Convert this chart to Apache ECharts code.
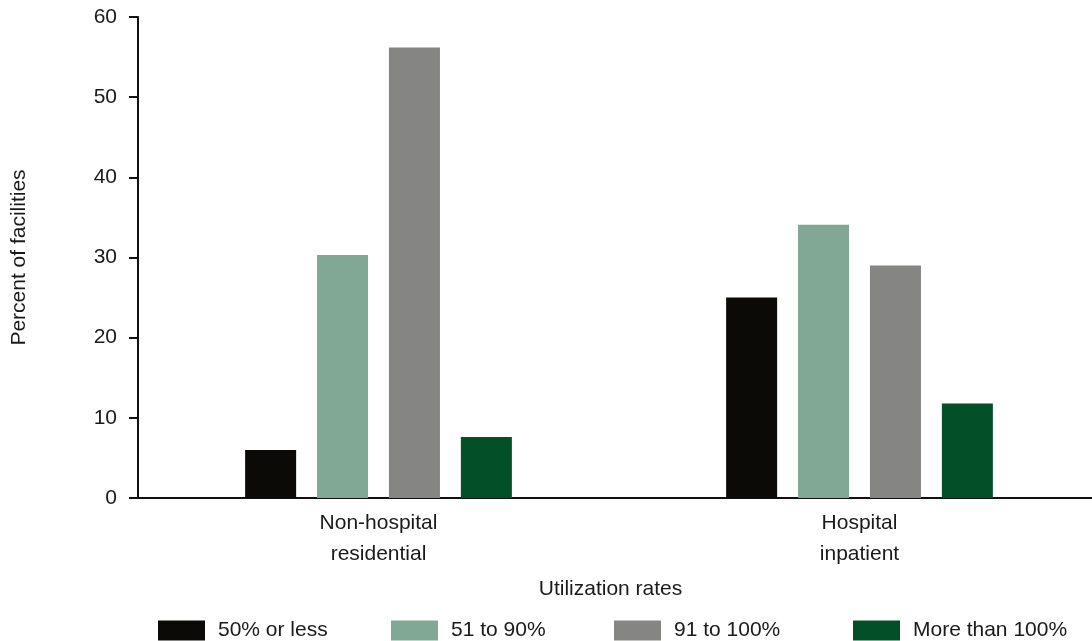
<!DOCTYPE html>
<html>
<head>
<meta charset="utf-8">
<script src="https://cdn.jsdelivr.net/npm/echarts@6/dist/echarts.min.js"></script>
<style>
html,body{margin:0;padding:0;background:#fff;}
#chart{width:1092px;height:641px;}
</style>
</head>
<body>
<div id="chart"></div>
<script>
var categories = ['Non-hospital\nresidential', 'Hospital\ninpatient'];
var seriesNames = ['50% or less', '51 to 90%', '91 to 100%', 'More than 100%'];
var lessThan50 = [6.0, 25.0];
var from51to90 = [30.3, 34.1];
var from91to100 = [56.2, 29.0];
var moreThan100 = [7.6, 11.8];
var yTicks = { min: 0, max: 60, interval: 10 };
var colors = ['#0b0a06', '#80a894', '#858583', '#024f28'];

var FONT = '"Liberation Sans", Arial, Helvetica, sans-serif';
var TXT = '#1a1a1a';
var FS = 21;
var values = [lessThan50, from51to90, from91to100, moreThan100];
var legendLefts = [158, 391, 614, 853];

var chart = echarts.init(document.getElementById('chart'));
var option = {
  backgroundColor: '#ffffff',
  animation: false,
  textStyle: { fontFamily: FONT, color: TXT },
  grid: { left: 138, top: 17, width: 962, height: 481, containLabel: false, outerBoundsMode: 'none' },
  legend: seriesNames.map(function (n, i) {
    return {
      data: [n], left: legendLefts[i], top: 620, padding: 0,
      itemWidth: 47, itemHeight: 20, icon: 'rect',
      textStyle: { fontFamily: FONT, fontSize: FS, color: TXT, padding: [0, 0, 0, 8] }
    };
  }),
  xAxis: {
    type: 'category', data: categories,
    name: 'Utilization rates', nameLocation: 'middle', nameGap: 81,
    nameTextStyle: { fontFamily: FONT, fontSize: FS, color: TXT, padding: [0, 17, 0, 0] },
    axisLine: { lineStyle: { color: '#111', width: 2 } },
    axisTick: { show: false },
    axisLabel: { fontFamily: FONT, fontSize: FS, color: TXT, lineHeight: 31, margin: 10 }
  },
  yAxis: {
    type: 'value', min: yTicks.min, max: yTicks.max, interval: yTicks.interval,
    name: 'Percent of facilities', nameLocation: 'middle', nameGap: 108, nameRotate: 90,
    nameTextStyle: { fontFamily: FONT, fontSize: FS, color: TXT },
    axisLine: { show: true, lineStyle: { color: '#111', width: 2 } },
    axisTick: { show: true, length: 9, lineStyle: { color: '#111', width: 2 } },
    axisLabel: { fontFamily: FONT, fontSize: FS, color: TXT, margin: 21 },
    splitLine: { show: false }
  },
  series: seriesNames.map(function (n, i) {
    return {
      name: n, type: 'bar', data: values[i], barWidth: 51, barGap: '41%',
      itemStyle: { color: colors[i] }
    };
  })
};
chart.setOption(option);
</script>
</body>
</html>
